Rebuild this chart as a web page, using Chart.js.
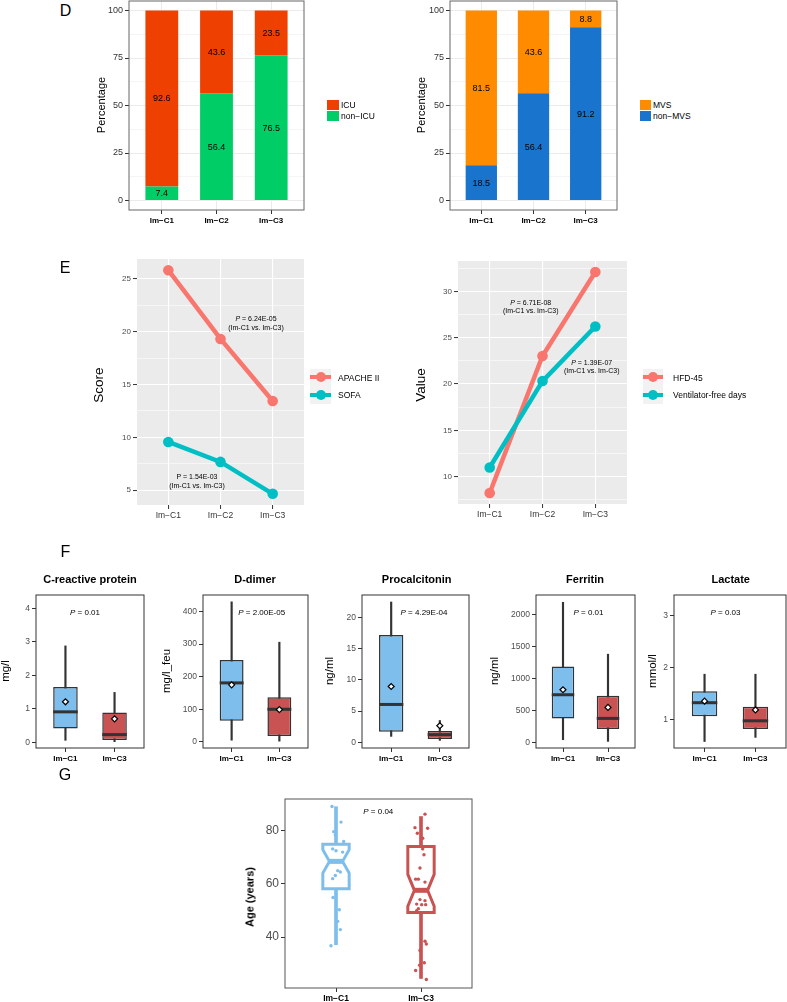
<!DOCTYPE html>
<html>
<head>
<meta charset="utf-8">
<script src="https://cdn.jsdelivr.net/npm/chart.js@4.4.1/dist/chart.umd.min.js"></script>
<style>
  html, body { margin: 0; padding: 0; background: #fff; }
  #page { position: relative; width: 787px; height: 1002px; overflow: hidden; font-family: "Liberation Sans", Arial, sans-serif; }
  #page canvas { position: absolute; }
  .t { position: absolute; white-space: nowrap; line-height: 1; }
  .k { position: absolute; }
</style>
</head>
<body>
<div id="page"></div>
<script>
const FONT = '"Liberation Sans", Arial, sans-serif';

// ---- D: stacked percentages
const groups3 = ["Im−C1", "Im−C2", "Im−C3"];
const icu = [92.6, 43.6, 23.5];
const nonIcu = [7.4, 56.4, 76.5];
const mvs = [81.5, 43.6, 8.8];
const nonMvs = [18.5, 56.4, 91.2];
const pctTicks = [0, 25, 50, 75, 100];

// ---- E: mean scores per cluster
const apache = [25.82, 19.31, 13.43];
const sofa = [9.56, 7.67, 4.65];
const hfd45 = [8.25, 23.02, 32.08];
const ventFree = [11.0, 20.32, 26.2];
const scoreTicks = [5, 10, 15, 20, 25];
const valueTicks = [10, 15, 20, 25, 30];

// ---- F: box stats [lower whisker, Q1, median, Q3, upper whisker]
const groups2 = ["Im−C1", "Im−C3"];
const crpC1 = [0.06, 0.41, 0.91, 1.65, 2.88];
const crpC3 = [0.02, 0.07, 0.23, 0.89, 1.49];
const crpMean = [1.21, 0.70];
const ddC1 = [5, 65, 181, 251, 430];
const ddC3 = [2, 18, 100, 137, 306];
const ddMean = [175, 99];
const pctC1 = [0.96, 1.71, 6.06, 17.18, 22.44];
const pctC3 = [0.32, 0.54, 1.23, 1.82, 3.5];
const pctMean = [8.93, 2.66];
const ferC1 = [42, 376, 747, 1190, 2197];
const ferC3 = [16, 210, 376, 731, 1383];
const ferMean = [825, 548];
const lacC1 = [0.57, 1.06, 1.32, 1.54, 1.87];
const lacC3 = [0.65, 0.81, 0.97, 1.24, 1.87];
const lacMean = [1.35, 1.18];

// ---- G: age, notched boxes + jittered points
const ageBoxC1 = [37.1, 58.2, 68.5, 75.0, 89.1];
const ageBoxC3 = [24.4, 49.2, 57.6, 74.1, 85.4];
const ageNotchC1 = [64.1, 72.9];
const ageNotchC3 = [51.6, 63.6];
const ageC1 = [89.2, 83.3, 79.7, 78.5, 76.0, 73.2, 72.5, 72.0, 65.0, 64.5, 63.2, 62.0, 54.9, 50.3, 45.9, 42.8, 36.7];
const jitC1 = [-0.047, 0.059, -0.027, -0.008, 0.09, -0.039, 0, 0.078, 0.02, 0.051, -0.008, -0.039, -0.035, 0.039, 0.02, 0.051, -0.059];
const ageC3 = [86.3, 81.2, 81.0, 79.1, 77.2, 73.2, 71.0, 66.0, 61.8, 61.8, 60.7, 54.1, 53.7, 52.4, 52.2, 52.2, 50.7, 49.9, 38.4, 37.4, 34.9, 30.3, 29.4, 27.4, 24.0];
const jitC3 = [0.047, -0.071, 0.078, -0.043, 0.02, 0.02, 0.035, -0.012, -0.063, -0.031, 0.047, -0.012, 0.047, -0.051, 0.008, 0.055, -0.031, -0.051, 0.047, 0.063, -0.012, 0.039, -0.016, -0.063, 0.063];
const ageTicks = [40, 60, 80];

const BLUE = "#7EBEEC";
const RED = "#C95252";
const GG_RED = "#F8766D";
const GG_CYAN = "#00BFC4";

Chart.defaults.font.family = FONT;

const page = document.getElementById("page");
const PAD = 12;

function txt(html, x, y, o = {}) {
  const d = document.createElement("div");
  d.className = "t";
  d.innerHTML = html;
  d.style.left = x + "px";
  d.style.top = y + "px";
  d.style.fontSize = (o.size || 9) + "px";
  d.style.fontWeight = o.bold ? "bold" : "normal";
  d.style.color = o.color || "#000";
  const ax = o.left ? "0" : "-50%";
  d.style.transform = `translate(${ax},-50%)` + (o.rot ? " rotate(-90deg)" : "");
  page.appendChild(d);
  return d;
}

function box(x, y, w, h, color) {
  const d = document.createElement("div");
  d.className = "k";
  d.style.cssText = `left:${x}px;top:${y}px;width:${w}px;height:${h}px;background:${color}`;
  page.appendChild(d);
  return d;
}

function lineKey(x, y, w, color) {
  box(x, y, w, 17.5, "#F2F2F2");
  box(x, y + 6.75, w, 4, color);
  box(x + w / 2 - 5, y + 3.75, 10, 10, color).style.borderRadius = "50%";
}

function canvasFor(area, yw, xh) {
  const [L, T, R, B] = area;
  const left = Math.round(L) - yw;
  const top = Math.round(T) - PAD;
  const w = Math.round(R) + PAD - left;
  const h = Math.round(B) + xh - top;
  const c = document.createElement("canvas");
  c.width = w;
  c.height = h;
  c.style.cssText = `left:${left}px;top:${top}px;width:${w}px;height:${h}px`;
  page.appendChild(c);
  return c;
}

function catAxis(labels, xh, st) {
  return {
    type: "linear",
    min: 0.4,
    max: labels.length + 0.6,
    offset: false,
    afterBuildTicks: (s) => { s.ticks = labels.map((_, i) => ({ value: i + 1 })); },
    afterFit: (s) => { s.height = xh; },
    ticks: {
      autoSkip: false, maxRotation: 0, padding: 2,
      color: st.color || "#000",
      font: { size: st.size, weight: st.bold ? "bold" : "normal" },
      callback: (v) => labels[Math.round(v) - 1] || "",
    },
    grid: {
      offset: false,
      drawOnChartArea: !!st.grid,
      color: st.grid || "transparent",
      lineWidth: st.gridW || 1,
      tickColor: "#333", tickLength: 4, tickWidth: 1,
    },
    border: { display: false },
  };
}

function valAxis(lim, major, yw, st) {
  const step = major[1] - major[0];
  const minor = st.minor
    ? major.map((v) => v - step / 2).concat(major[major.length - 1] + step / 2).filter((v) => v > lim[0] && v < lim[1])
    : [];
  const all = major.concat(minor).sort((a, b) => a - b);
  const isMajor = (ctx) => ctx.tick && major.includes(ctx.tick.value);
  const gw = st.gridW || 1;
  return {
    type: "linear",
    min: lim[0],
    max: lim[1],
    afterBuildTicks: (s) => { s.ticks = all.map((v) => ({ value: v })); },
    afterFit: (s) => { s.width = yw; },
    ticks: {
      autoSkip: false, padding: 2,
      color: st.color || "#333",
      font: { size: st.size },
      callback: (v) => (major.includes(v) ? String(v) : ""),
    },
    grid: {
      drawOnChartArea: !!st.grid,
      color: st.grid || "transparent",
      lineWidth: (ctx) => (isMajor(ctx) ? gw : gw / 2),
      tickColor: (ctx) => (isMajor(ctx) ? "#333" : "rgba(0,0,0,0)"),
      tickLength: 4, tickWidth: 1,
    },
    border: { display: false },
  };
}

// panel background and frame
Chart.register({
  id: "panel",
  beforeDraw(chart, args, o) {
    if (!o.bg) return;
    const { ctx, chartArea: a } = chart;
    ctx.save();
    ctx.fillStyle = o.bg;
    ctx.fillRect(a.left, a.top, a.width, a.height);
    ctx.restore();
  },
  afterDraw(chart, args, o) {
    if (!o.frame) return;
    const { ctx, chartArea: a } = chart;
    ctx.save();
    ctx.strokeStyle = o.frame;
    ctx.lineWidth = o.frameW || 1;
    ctx.strokeRect(a.left, a.top, a.width, a.height);
    ctx.restore();
  },
});

function make(area, yw, xh, type, datasets, x, y, panel, plugins) {
  return new Chart(canvasFor(area, yw, xh), {
    type,
    data: { datasets },
    options: {
      responsive: false,
      animation: false,
      events: [],
      layout: { padding: { top: PAD, right: PAD, left: 0, bottom: 0 } },
      scales: { x, y },
      plugins: { legend: { display: false }, tooltip: { enabled: false }, panel },
    },
    plugins: plugins || [],
  });
}

const pts = (arr) => arr.map((v, i) => ({ x: i + 1, y: v }));

// ================= D =================
const barLabels = {
  id: "barLabels",
  afterDatasetsDraw(chart) {
    const ctx = chart.ctx;
    ctx.save();
    ctx.font = `9px ${FONT}`;
    ctx.fillStyle = "#000";
    ctx.textAlign = "center";
    ctx.textBaseline = "middle";
    chart.data.datasets.forEach((ds, i) => {
      chart.getDatasetMeta(i).data.forEach((bar, j) => {
        const p = bar.getCenterPoint();
        ctx.fillText(ds.data[j].y.toFixed(1), p.x, p.y + 0.5);
      });
    });
    ctx.restore();
  },
};

function stackBars(area, lower, upper, colLow, colUp) {
  const ds = (vals, col) => ({
    data: pts(vals), backgroundColor: col, borderWidth: 0,
    grouped: false, barPercentage: 0.6, categoryPercentage: 1,
  });
  const y = valAxis([-5, 105], pctTicks, 40, { size: 9, color: "#333", grid: "#EBEBEB", gridW: 1, minor: true });
  y.stacked = true;
  make(area, 40, 24, "bar", [ds(lower, colLow), ds(upper, colUp)],
    catAxis(groups3, 24, { size: 8, bold: true, grid: "#EBEBEB" }), y,
    { frame: "#666", frameW: 1 }, [barLabels]);
}

stackBars([129, 1, 304, 210], nonIcu, icu, "#00CD66", "#EE4000");
stackBars([450, 1, 617, 210], nonMvs, mvs, "#1874CD", "#FF8C00");

txt("D", 65.5, 11, { size: 16 });
txt("Percentage", 101, 105, { size: 11, rot: true });
txt("Percentage", 421, 105, { size: 11, rot: true });
box(327, 99.5, 11.5, 10, "#EE4000");
box(327, 110.5, 11.5, 10, "#00CD66");
txt("ICU", 341, 104.5, { size: 8.5, left: true });
txt("non−ICU", 341, 115.5, { size: 8.5, left: true });
box(639.5, 99.5, 11.5, 10, "#FF8C00");
box(639.5, 110.5, 11.5, 10, "#1874CD");
txt("MVS", 653, 104.5, { size: 8.5, left: true });
txt("non−MVS", 653, 115.5, { size: 8.5, left: true });

// ================= E =================
function expand(arrs) {
  const all = [].concat(...arrs);
  const lo = Math.min(...all), hi = Math.max(...all);
  const p = (hi - lo) * 0.05;
  return [lo - p, hi + p];
}

function lineChart(area, a, b, ticks) {
  const ds = (vals, col, order) => ({
    data: pts(vals), borderColor: col, backgroundColor: col, borderWidth: 4.5,
    pointRadius: 5.3, pointBorderWidth: 0, pointBackgroundColor: col, tension: 0, order,
  });
  make(area, 30, 24, "line", [ds(a, GG_RED, 1), ds(b, GG_CYAN, 0)],
    catAxis(groups3, 24, { size: 8.5, color: "#333", grid: "#FFFFFF", gridW: 1.1 }),
    valAxis(expand([a, b]), ticks, 30, { size: 8, color: "#4D4D4D", grid: "#FFFFFF", gridW: 1.1, minor: true }),
    { bg: "#EBEBEB" });
}

lineChart([137, 259, 304, 505], apache, sofa, scoreTicks);
lineChart([458, 261, 627, 504], hfd45, ventFree, valueTicks);

txt("E", 65, 267.5, { size: 16 });
txt("Score", 99, 385, { size: 13.5, rot: true });
txt("Value", 421, 385, { size: 13.5, rot: true });
txt("<i>P</i> = 6.24E-05", 256, 318, { size: 7 });
txt("(Im-C1 vs. Im-C3)", 256, 327, { size: 7 });
txt("P = 1.54E-03", 197, 476, { size: 7 });
txt("(Im-C1 vs. Im-C3)", 197, 484.5, { size: 7 });
txt("<i>P</i> = 6.71E-08", 530.7, 301.7, { size: 7 });
txt("(Im-C1 vs. Im-C3)", 530.7, 310, { size: 7 });
txt("<i>P</i> = 1.39E-07", 591.7, 361.7, { size: 7 });
txt("(Im-C1 vs. Im-C3)", 591.7, 370, { size: 7 });
lineKey(310, 368.5, 21, GG_RED);
lineKey(310, 386, 21, GG_CYAN);
txt("APACHE II", 338, 378, { size: 8.5, left: true });
txt("SOFA", 338, 394.5, { size: 8.5, left: true });
lineKey(643, 368.5, 20, GG_RED);
lineKey(643, 386, 20, GG_CYAN);
txt("HFD-45", 673, 378, { size: 8.5, left: true });
txt("Ventilator-free days", 673, 394.5, { size: 8.5, left: true });

// ================= F =================
const medianPlugin = {
  id: "medians",
  afterDatasetDraw(chart, args) {
    const ds = chart.data.datasets[args.index];
    if (!ds.medians) return;
    const y = chart.scales.y, ctx = chart.ctx;
    ctx.save();
    ctx.strokeStyle = "#333";
    ctx.lineWidth = 3;
    args.meta.data.forEach((bar, j) => {
      const py = y.getPixelForValue(ds.medians[j]);
      ctx.beginPath();
      ctx.moveTo(bar.x - bar.width / 2, py);
      ctx.lineTo(bar.x + bar.width / 2, py);
      ctx.stroke();
    });
    ctx.restore();
  },
};

const fPanels = [
  { title: "C-reactive protein", unit: "mg/l", p: "<i>P</i> = 0.01", s: [crpC1, crpC3], mean: crpMean, ticks: [0, 1, 2, 3, 4], lim: [-0.17, 4.4], area: [36, 595, 144, 748], tx: 90, ux: 6, px: 85 },
  { title: "D-dimer", unit: "mg/l_feu", p: "<i>P</i> = 2.00E-05", s: [ddC1, ddC3], mean: ddMean, ticks: [0, 100, 200, 300, 400], lim: [-19, 451], area: [203, 595, 308, 748], tx: 255, ux: 166.7, px: 261.7 },
  { title: "Procalcitonin", unit: "ng/ml", p: "<i>P</i> = 4.29E-04", s: [pctC1, pctC3], mean: pctMean, ticks: [0, 5, 10, 15, 20], lim: [-0.9, 23.56], area: [362, 595, 469, 748], tx: 416.7, ux: 330, px: 424 },
  { title: "Ferritin", unit: "ng/ml", p: "<i>P</i> = 0.01", s: [ferC1, ferC3], mean: ferMean, ticks: [0, 500, 1000, 1500, 2000], lim: [-88, 2311], area: [536, 595, 635, 748], tx: 585, ux: 494.7, px: 588.5 },
  { title: "Lactate", unit: "mmol/l", p: "<i>P</i> = 0.03", s: [lacC1, lacC3], mean: lacMean, ticks: [1, 2, 3], lim: [0.445, 3.40], area: [674, 595, 786, 748], tx: 730.7, ux: 653, px: 725.5 },
];

fPanels.forEach((f) => {
  const datasets = [
    {
      type: "scatter", order: 0, data: pts(f.mean),
      pointStyle: "rectRot", pointRadius: 3, pointBackgroundColor: "#fff",
      pointBorderColor: "#000", pointBorderWidth: 1.2,
    },
    {
      type: "bar", order: 1, data: f.s.map((s, i) => ({ x: i + 1, y: [s[1], s[3]] })),
      medians: f.s.map((s) => s[2]),
      backgroundColor: [BLUE, RED], borderColor: "#333", borderWidth: 1.5, borderSkipped: false,
      grouped: false, barPercentage: 0.5, categoryPercentage: 1,
    },
    {
      type: "bar", order: 2, data: f.s.map((s, i) => ({ x: i + 1, y: [s[0], s[4]] })),
      backgroundColor: "#333", borderWidth: 0, grouped: false, barThickness: 1.5,
    },
  ];
  make(f.area, 30, 20, "bar", datasets,
    catAxis(groups2, 20, { size: 8, bold: true }),
    valAxis(f.lim, f.ticks, 30, { size: 8.5, color: "#4D4D4D" }),
    { frame: "#333", frameW: 1 }, [medianPlugin]);
  txt(f.title, f.tx, 579, { size: 11, bold: true });
  txt(f.unit, f.ux, 671, { size: 11.5, rot: true });
  txt(f.p, f.px, 613, { size: 8 });
});
txt("F", 65.5, 551.7, { size: 16 });

// ================= G =================
const BOXW = 0.31;
const notchPlugin = {
  id: "notches",
  afterDatasetDraw(chart, args) {
    const ds = chart.data.datasets[args.index];
    if (!ds.notched) return;
    const xs = chart.scales.x, ys = chart.scales.y, ctx = chart.ctx;
    const Y = (v) => ys.getPixelForValue(v);
    ds.notched.forEach((b, i) => {
      const [low, q1, med, q3, high] = b.s;
      const [nlo, nhi] = b.n;
      const x0 = xs.getPixelForValue(i + 1 - BOXW / 2);
      const x1 = xs.getPixelForValue(i + 1 + BOXW / 2);
      const ind = (x1 - x0) / 4;
      ctx.save();
      ctx.beginPath();
      ctx.moveTo(x0, Y(q3));
      ctx.lineTo(x0, Y(nhi));
      ctx.lineTo(x0 + ind, Y(med));
      ctx.lineTo(x0, Y(nlo));
      ctx.lineTo(x0, Y(q1));
      ctx.lineTo(x1, Y(q1));
      ctx.lineTo(x1, Y(nlo));
      ctx.lineTo(x1 - ind, Y(med));
      ctx.lineTo(x1, Y(nhi));
      ctx.lineTo(x1, Y(q3));
      ctx.closePath();
      ctx.fillStyle = "#fff";
      ctx.fill();
      ctx.lineWidth = 3;
      ctx.lineJoin = "miter";
      ctx.strokeStyle = b.color;
      ctx.stroke();
      ctx.beginPath();
      ctx.lineWidth = 5;
      ctx.moveTo(x0 + ind, Y(med));
      ctx.lineTo(x1 - ind, Y(med));
      ctx.stroke();
      ctx.restore();
    });
  },
};

make([285, 799, 472, 988], 40, 18, "bar", [
  {
    type: "scatter", order: 0, data: ageC1.map((v, k) => ({ x: 1 + jitC1[k], y: v })),
    pointRadius: 1.7, pointBorderWidth: 0, pointBackgroundColor: BLUE,
  },
  {
    type: "scatter", order: 0, data: ageC3.map((v, k) => ({ x: 2 + jitC3[k], y: v })),
    pointRadius: 1.7, pointBorderWidth: 0, pointBackgroundColor: RED,
  },
  {
    type: "bar", order: 1, data: [ageBoxC1, ageBoxC3].map((s, i) => ({ x: i + 1, y: [s[0], s[4]] })),
    notched: [{ s: ageBoxC1, n: ageNotchC1, color: BLUE }, { s: ageBoxC3, n: ageNotchC3, color: RED }],
    backgroundColor: [BLUE, RED], borderWidth: 0, grouped: false, barThickness: 3,
  },
], catAxis(groups2, 18, { size: 8.5, bold: true }),
  valAxis([20.8, 92.0], ageTicks, 40, { size: 12, color: "#4D4D4D" }),
  { frame: "#555", frameW: 1 }, [notchPlugin]);

txt("G", 65, 775, { size: 16 });
txt("Age (years)", 250, 896.7, { size: 11, bold: true, rot: true });
txt("<i>P</i> = 0.04", 378.3, 811.7, { size: 8 });
</script>
</body>
</html>
